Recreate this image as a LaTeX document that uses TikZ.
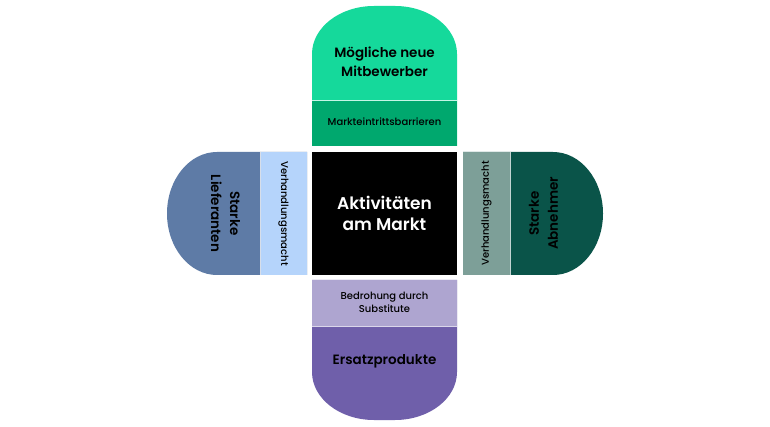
\documentclass[tikz,border=0pt]{standalone}
\usepackage{fontspec}
\setmainfont{Poppins}[BoldFont={Poppins SemiBold}]
\newfontfamily\popmed{Poppins Medium}
\definecolor{cgreen}{HTML}{15D99B}
\definecolor{cgreenband}{HTML}{00A86E}
\definecolor{cblue}{HTML}{5E7BA6}
\definecolor{cblueband}{HTML}{B5D4FB}
\definecolor{cteal}{HTML}{0A5449}
\definecolor{ctealband}{HTML}{7D9F98}
\definecolor{cpurple}{HTML}{6F5FAA}
\definecolor{cpurpleband}{HTML}{AEA5D0}
\tikzset{
  band/.style={inner sep=0pt, outer sep=0pt, draw=none},
  bigtxt/.style={align=center, font=\fontsize{13.5}{19}\selectfont\bfseries, text=black},
  smalltxt/.style={align=center, font=\fontsize{10}{13}\selectfont\popmed, text=black},
}
\begin{document}
\begin{tikzpicture}[x=1pt,y=-1pt]
\useasboundingbox (0,0) rectangle (770,427);
\fill[white] (0,0) rectangle (770,427);
% caps
\fill[cgreen] (312,146) -- (312,54) .. controls (312,27.5) and (339.8,6) .. (374,6) -- (395,6) .. controls (429.2,6) and (457,27.5) .. (457,54) -- (457,146) -- cycle;
\fill[cgreenband] (312,100) rectangle (457,146);
\fill[cblue] (307,152) -- (217,152) .. controls (189.4,152) and (167,179.5) .. (167,213.5) .. controls (167,247.5) and (189.4,275) .. (217,275) -- (307,275) -- cycle;
\fill[cblueband] (260,152) rectangle (307,275);
\fill[cteal] (463,152) -- (553,152) .. controls (580.6,152) and (603,179.5) .. (603,213.5) .. controls (603,247.5) and (580.6,275) .. (553,275) -- (463,275) -- cycle;
\fill[ctealband] (463,152) rectangle (510,275);
\fill[cpurple] (312,280) -- (312,372) .. controls (312,398.5) and (339.8,420) .. (374,420) -- (395,420) .. controls (429.2,420) and (457,398.5) .. (457,372) -- (457,280) -- cycle;
\fill[cpurpleband] (312,280) rectangle (457,326);
% separators
\draw[white!75!cgreen, line width=0.6pt] (312,100) -- (457,100);
\draw[white!75!cblue, line width=0.6pt] (260,152) -- (260,275);
\draw[white!75!cteal, line width=0.6pt] (510,152) -- (510,275);
\draw[white!75!cpurple, line width=0.6pt] (312,326) -- (457,326);
% center
\node[band, fill=black, minimum width=145pt, minimum height=123pt] (center) at (384.5,213.5) {};
\node[align=center, text=white, font=\fontsize{17}{20.5}\selectfont\bfseries] (ctext) at (384.5,213.5) {Aktivitäten\\am Markt};
% top
\node[bigtxt] (top) at (384.5,62) {Mögliche neue\\Mitbewerber};
\node[smalltxt] (topband) at (384.5,122) {Markteintrittsbarrieren};
% left
\node[bigtxt, rotate=-90] (left) at (225.5,213.5) {Starke\\Lieferanten};
\node[smalltxt, rotate=-90] (leftband) at (283.5,213.5) {Verhandlungsmacht};
% right
\node[bigtxt, rotate=90] (right) at (543.5,213.5) {Starke\\Abnehmer};
\node[smalltxt, rotate=90] (rightband) at (486.5,213.5) {Verhandlungsmacht};
% bottom
\node[bigtxt] (bottom) at (384.5,361) {Ersatzprodukte};
\node[smalltxt] (bottomband) at (384.5,302) {Bedrohung durch\\Substitute};
\end{tikzpicture}
\end{document}
